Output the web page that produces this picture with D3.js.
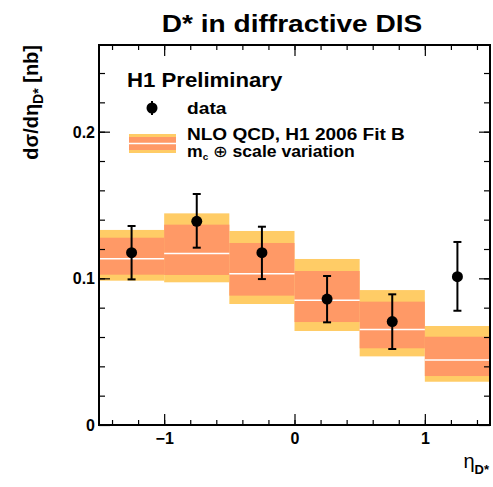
<!DOCTYPE html>
<html>
<head>
<meta charset="utf-8">
<script src="https://cdn.jsdelivr.net/npm/d3@7"></script>
<style>
  body { margin: 0; background: #fff; }
  text { font-family: "Liberation Sans", Arial, sans-serif; font-weight: bold; fill: #000; }
</style>
</head>
<body>
<svg id="chart" width="493" height="487"></svg>
<script>
// bins in eta(D*)
var binEdges = [-1.5, -1, -0.5, 0, 0.5, 1, 1.5]
var etaCenters = [-1.25, -0.75, -0.25, 0.25, 0.75, 1.25]

// H1 data, dsigma/deta [nb]
var dataVals = [0.1175, 0.1389, 0.1175, 0.0859, 0.0705, 0.1011]
var dataLo = [0.0993, 0.1209, 0.0995, 0.0700, 0.0518, 0.0779]
var dataHi = [0.1357, 0.1575, 0.1352, 0.1016, 0.0891, 0.1248]

// NLO QCD prediction (central + two bands)
var nloCentral = [0.1134, 0.1170, 0.1032, 0.0850, 0.0652, 0.0443]
var innerLo = [0.1025, 0.1023, 0.0882, 0.0702, 0.0523, 0.0334]
var innerHi = [0.1277, 0.1366, 0.1241, 0.1050, 0.0841, 0.0602]
var outerLo = [0.0984, 0.0973, 0.0825, 0.0641, 0.0468, 0.0295]
var outerHi = [0.1330, 0.1443, 0.1323, 0.1132, 0.0920, 0.0675]

var xMajor = [-1, 0, 1]
var yMajor = [0, 0.1, 0.2]

// plot frame (window.top is taken, so own names)
var pL = 99, pR = 490, pT = 45, pB = 425
var yellow = "#ffcc66", orange = "#ff9966"

var svg = d3.select("#chart")
var x = d3.scaleLinear().domain([-1.5, 1.5]).range([pL, pR])
var y = d3.scaleLinear().domain([0, 0.2591]).range([pB, pT])

var bins = d3.range(etaCenters.length)

// outer band
svg.selectAll("rect.outer").data(bins).enter().append("rect")
  .attr("x", function(i) { return x(binEdges[i]) })
  .attr("width", function(i) { return x(binEdges[i+1]) - x(binEdges[i]) })
  .attr("y", function(i) { return y(outerHi[i]) })
  .attr("height", function(i) { return y(outerLo[i]) - y(outerHi[i]) })
  .style("fill", yellow)

// inner band
svg.selectAll("rect.inner").data(bins).enter().append("rect")
  .attr("x", function(i) { return x(binEdges[i]) })
  .attr("width", function(i) { return x(binEdges[i+1]) - x(binEdges[i]) })
  .attr("y", function(i) { return y(innerHi[i]) })
  .attr("height", function(i) { return y(innerLo[i]) - y(innerHi[i]) })
  .style("fill", orange)

// central line
svg.selectAll("line.central").data(bins).enter().append("line")
  .attr("x1", function(i) { return x(binEdges[i]) })
  .attr("x2", function(i) { return x(binEdges[i+1]) })
  .attr("y1", function(i) { return y(nloCentral[i]) })
  .attr("y2", function(i) { return y(nloCentral[i]) })
  .style("stroke", "#fff").style("stroke-width", 1.5)

// axes (ROOT style: ticks inside, on all four sides)
var xMinor = d3.range(-1.4, 1.5, 0.2)
svg.append("g").attr("transform", "translate(0," + pB + ")")
  .call(d3.axisBottom(x).tickValues(xMinor).tickSize(-5).tickFormat(""))
svg.append("g").attr("class", "xmaj").attr("transform", "translate(0," + pB + ")")
  .call(d3.axisBottom(x).tickValues(xMajor).tickSize(-11).tickPadding(6)
    .tickFormat(function(d) { return d < 0 ? "\u2212" + Math.abs(d) : d }))
svg.append("g").attr("transform", "translate(0," + pT + ")")
  .call(d3.axisTop(x).tickValues(xMinor).tickSize(-5).tickFormat(""))
svg.append("g").attr("transform", "translate(0," + pT + ")")
  .call(d3.axisTop(x).tickValues(xMajor).tickSize(-11).tickFormat(""))

var yMinor = d3.range(0.02, 0.259, 0.02)
svg.append("g").attr("transform", "translate(" + pL + ",0)")
  .call(d3.axisLeft(y).tickValues(yMinor).tickSize(-6).tickFormat(""))
svg.append("g").attr("class", "ymaj").attr("transform", "translate(" + pL + ",0)")
  .call(d3.axisLeft(y).tickValues(yMajor).tickSize(-11).tickPadding(4)
    .tickFormat(function(d) { return d === 0 ? "0" : d3.format(".1f")(d) }))
svg.append("g").attr("transform", "translate(" + pR + ",0)")
  .call(d3.axisRight(y).tickValues(yMinor).tickSize(-6).tickFormat(""))
svg.append("g").attr("transform", "translate(" + pR + ",0)")
  .call(d3.axisRight(y).tickValues(yMajor).tickSize(-11).tickFormat(""))

svg.selectAll(".domain").remove()
svg.selectAll(".tick line").style("stroke", "#000").style("stroke-width", 1.2)
svg.selectAll(".tick text").style("font-size", "16px").style("font-family", "Liberation Sans, Arial")
  .style("font-weight", "bold").attr("fill", "#000")
// labels sit outside the frame, ticks point inward
svg.selectAll(".xmaj .tick text").attr("y", 8)
svg.selectAll(".ymaj .tick text").attr("x", -4).attr("dy", "0.35em")

// frame
svg.append("rect").attr("x", pL).attr("y", pT)
  .attr("width", pR - pL).attr("height", pB - pT)
  .style("fill", "none").style("stroke", "#000").style("stroke-width", 2)

// data error bars
var capW = 4
var eb = svg.selectAll("g.err").data(bins).enter().append("g")
eb.append("line")
  .attr("x1", function(i) { return x(etaCenters[i]) })
  .attr("x2", function(i) { return x(etaCenters[i]) })
  .attr("y1", function(i) { return y(dataLo[i]) })
  .attr("y2", function(i) { return y(dataHi[i]) })
  .style("stroke", "#000").style("stroke-width", 2)
eb.append("line")
  .attr("x1", function(i) { return x(etaCenters[i]) - capW })
  .attr("x2", function(i) { return x(etaCenters[i]) + capW })
  .attr("y1", function(i) { return y(dataLo[i]) })
  .attr("y2", function(i) { return y(dataLo[i]) })
  .style("stroke", "#000").style("stroke-width", 2)
eb.append("line")
  .attr("x1", function(i) { return x(etaCenters[i]) - capW })
  .attr("x2", function(i) { return x(etaCenters[i]) + capW })
  .attr("y1", function(i) { return y(dataHi[i]) })
  .attr("y2", function(i) { return y(dataHi[i]) })
  .style("stroke", "#000").style("stroke-width", 2)
eb.append("circle")
  .attr("cx", function(i) { return x(etaCenters[i]) })
  .attr("cy", function(i) { return y(dataVals[i]) })
  .attr("r", 5.5)
  .style("fill", "#000")

// the original's helvetica runs wider than liberation, stretch a bit
function label(px, py, size, sx) {
  return svg.append("text")
    .attr("transform", "translate(" + px + "," + py + ") scale(" + sx + ",1)")
    .style("font-size", size + "px")
}

// title
label(292, 32, 24, 1.17).attr("text-anchor", "middle").text("D* in diffractive DIS")

// y label
var yl = svg.append("text").attr("transform", "translate(38,45) rotate(-90)")
  .attr("text-anchor", "end").style("font-size", "20px")
yl.append("tspan").text("d\u03c3/d\u03b7")
yl.append("tspan").attr("dy", 5).style("font-size", "14px").text("D*")
yl.append("tspan").attr("dy", -5).text(" [nb]")

// x label
var xl = svg.append("text").attr("x", 489).attr("y", 468).attr("text-anchor", "end")
  .style("font-size", "20px").style("font-weight", "normal")
xl.append("tspan").text("\u03b7")
xl.append("tspan").attr("dy", 6).style("font-size", "13px").style("font-weight", "bold").text("D*")

// legend
label(127, 87, 20, 1.11).text("H1 Preliminary")
svg.append("line").attr("x1", 152).attr("x2", 152).attr("y1", 101).attr("y2", 115)
  .style("stroke", "#000").style("stroke-width", 2)
svg.append("circle").attr("cx", 152).attr("cy", 108).attr("r", 5.5).style("fill", "#000")
label(187, 114, 16, 1.2).text("data")

svg.append("rect").attr("x", 129).attr("y", 134).attr("width", 47).attr("height", 19).style("fill", yellow)
svg.append("rect").attr("x", 129).attr("y", 137).attr("width", 47).attr("height", 13).style("fill", orange)
svg.append("line").attr("x1", 129).attr("x2", 176).attr("y1", 143.5).attr("y2", 143.5)
  .style("stroke", "#fff").style("stroke-width", 1.5)
label(187, 140, 16, 1.19).text("NLO QCD, H1 2006 Fit B")
var lt = label(187, 157, 16, 1.1)
lt.append("tspan").text("m")
lt.append("tspan").attr("dy", 3).style("font-size", "9px").text("c")
lt.append("tspan").attr("dy", -3).style("font-weight", "normal").text(" \u2295 ")
lt.append("tspan").text("scale variation")
</script>
</body>
</html>
